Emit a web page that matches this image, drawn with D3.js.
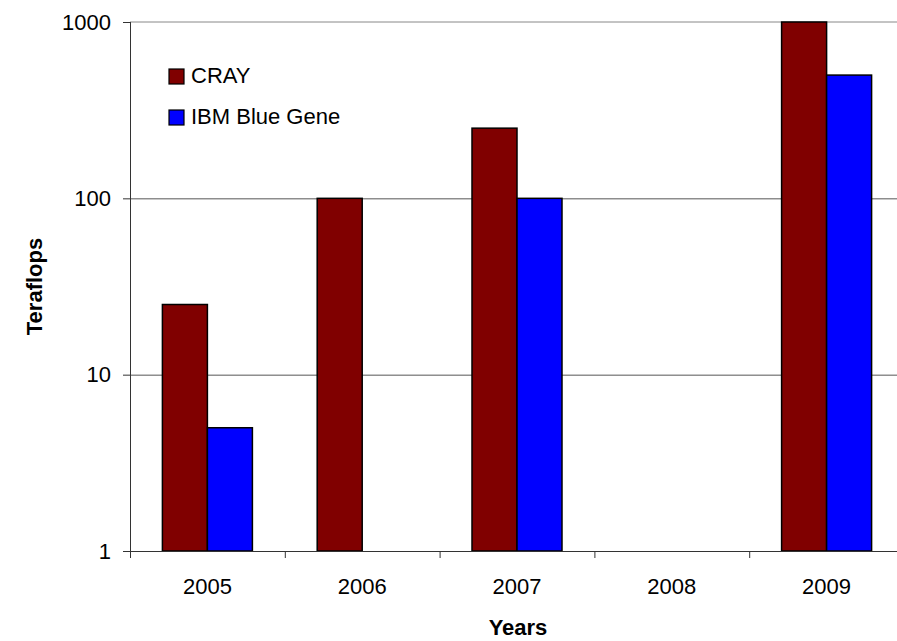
<!DOCTYPE html>
<html>
<head>
<meta charset="utf-8">
<script src="https://d3js.org/d3.v7.min.js"></script>
<style>
  html, body { margin: 0; padding: 0; background: #fff; }
  svg { display: block; font-family: Arial, "Liberation Sans", sans-serif; }
</style>
</head>
<body>
<svg id="chart" width="897" height="641"></svg>
<script>
const years = ["2005", "2006", "2007", "2008", "2009"];
const seriesNames = ["CRAY", "IBM Blue Gene"];
const crayValues = [25, 100, 250, null, 1000];
const ibmValues = [5, null, 100, null, 500];
const seriesColors = ["#800000", "#0000FF"];
const yTickValues = [1, 10, 100, 1000];

(function () {
const svg = d3.select("#chart");
const pLeft = 130, pRight = 904, pTop = 22, pBottom = 551;

const x0 = d3.scaleBand().domain(years).range([pLeft, pRight]).paddingInner(0).paddingOuter(0);
const x1 = d3.scaleBand().domain(seriesNames).range([0, x0.bandwidth()]).paddingInner(0).paddingOuter(0.72);
const y = d3.scaleLog().domain([1, 1000]).range([pBottom, pTop]);

// gridlines
svg.append("g")
  .selectAll("line")
  .data(yTickValues.filter(v => v > 1))
  .join("line")
  .attr("x1", pLeft).attr("x2", 897)
  .attr("y1", d => y(d) + (d === 1000 ? 0 : 0.5))
  .attr("y2", d => y(d) + (d === 1000 ? 0 : 0.5))
  .attr("stroke", d => d === 1000 ? "#888" : "#555")
  .attr("stroke-width", 1);

// bars
const rows = years.map((yr, i) => ({ year: yr, values: [crayValues[i], ibmValues[i]] }));
const groups = svg.append("g").selectAll("g")
  .data(rows).join("g")
  .attr("transform", d => `translate(${x0(d.year)},0)`);
groups.selectAll("rect")
  .data(d => d.values.map((v, j) => ({ name: seriesNames[j], value: v, color: seriesColors[j] })).filter(e => e.value != null))
  .join("rect")
  .attr("x", d => x1(d.name))
  .attr("width", x1.bandwidth())
  .attr("y", d => y(d.value))
  .attr("height", d => pBottom - y(d.value))
  .attr("fill", d => d.color)
  .attr("stroke", "#000")
  .attr("stroke-width", 1.5);

// left axis
const yAxis = d3.axisLeft(y).tickValues(yTickValues).tickFormat(d3.format("d")).tickSize(7).tickPadding(12);
const gy = svg.append("g").attr("transform", `translate(${pLeft},0)`).call(yAxis);
gy.select(".domain").attr("stroke", "#333").attr("d", `M0.5,${pTop}V${pBottom}`);
gy.selectAll(".tick line").attr("stroke", "#333");
gy.selectAll(".tick text").attr("font-size", 22).attr("fill", "#000")
  .attr("font-family", "Arial, 'Liberation Sans', sans-serif");

// bottom axis
const gx = svg.append("g").attr("transform", `translate(0,${pBottom})`);
gx.append("line").attr("x1", pLeft).attr("x2", 897).attr("y1", 0.5).attr("y2", 0.5).attr("stroke", "#333");
gx.selectAll(".sep")
  .data(years.concat(["end"]))
  .join("line")
  .attr("class", "sep")
  .attr("x1", (d, i) => (i < years.length ? x0(d) : pRight) + 0.5)
  .attr("x2", (d, i) => (i < years.length ? x0(d) : pRight) + 0.5)
  .attr("y1", 0).attr("y2", 7)
  .attr("stroke", "#333");
gx.selectAll(".lbl")
  .data(years)
  .join("text")
  .attr("class", "lbl")
  .attr("x", d => x0(d) + x0.bandwidth() / 2)
  .attr("y", 43)
  .attr("text-anchor", "middle")
  .attr("font-size", 22)
  .text(d => d);

// axis titles
svg.append("text")
  .attr("x", 518).attr("y", 635)
  .attr("text-anchor", "middle")
  .attr("font-size", 22).attr("font-weight", "bold")
  .text("Years");
svg.append("text")
  .attr("transform", `translate(42,${(pTop + pBottom) / 2}) rotate(-90)`)
  .attr("text-anchor", "middle")
  .attr("font-size", 22).attr("font-weight", "bold")
  .text("Teraflops");

// legend
const legend = svg.append("g").selectAll("g")
  .data(seriesNames).join("g")
  .attr("transform", (d, i) => `translate(169,${69 + i * 41})`);
legend.append("rect")
  .attr("width", 15).attr("height", 15)
  .attr("fill", (d, i) => seriesColors[i])
  .attr("stroke", "#000").attr("stroke-width", 1.2);
legend.append("text")
  .attr("x", 22).attr("y", 14)
  .attr("font-size", 22)
  .text(d => d);
})();
</script>
</body>
</html>
